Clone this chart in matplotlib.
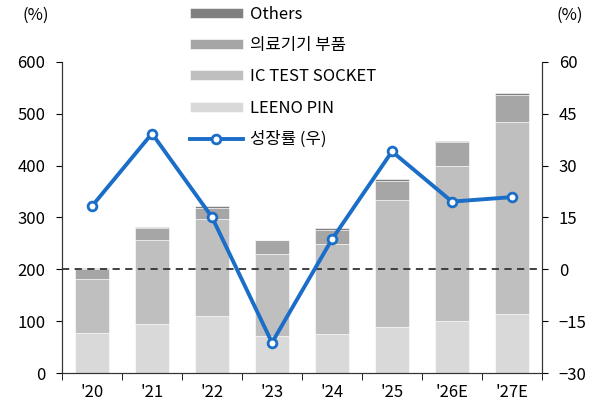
import numpy as np
import matplotlib
matplotlib.use('Agg')
import matplotlib.pyplot as plt

plt.rcParams['font.family'] = ['Noto Sans CJK KR', 'DejaVu Sans']

# 데이터
anos = ["'20", "'21", "'22", "'23", "'24", "'25", "'26E", "'27E"]
leeno_pin = [78, 95, 110, 71, 76, 89, 101, 113]
ic_socket = [103, 162, 187, 159, 173, 244, 299, 371]
medical = [20, 23, 21, 26, 27, 38, 45, 52]
others = [1, 2, 5, 1, 3, 3, 2, 4]
crescimento = [18.3, 39.3, 15.1, -21.2, 8.7, 34.1, 19.6, 20.9]

cores = ['#d9d9d9', '#bfbfbf', '#a6a6a6', '#808080']
azul = '#1a6ec8'

fig = plt.figure(figsize=(5.9, 4.05), dpi=100)
ax = fig.add_axes([62/590, 1-373/405, (542-62)/590, (373-62)/405])

x = np.arange(len(anos))
w = 0.58
base = np.zeros(len(anos))
series = [(leeno_pin, 'LEENO PIN'), (ic_socket, 'IC TEST SOCKET'),
          (medical, '의료기기 부품'), (others, 'Others')]
handles = {}
for (vals, nome), cor in zip(series, cores):
    b = ax.bar(x, vals, w, bottom=base, color=cor, edgecolor='white', linewidth=0.4, label=nome)
    handles[nome] = b
    base = base + np.array(vals)

ax.axhline(200, color='#333333', linestyle=(0, (4, 3)), linewidth=1.3, zorder=3)

ax.set_xlim(-0.5, 7.5)
ax.set_ylim(0, 600)
ax.set_yticks(range(0, 601, 100))
ax.set_xticks(x)
ax.set_xticklabels(anos)
ax.set_xticks(np.arange(-0.5, 8, 1), minor=True)
ax.tick_params(axis='x', which='major', length=0, pad=8, labelsize=12)
ax.tick_params(axis='x', which='minor', length=5, direction='out')
ax.tick_params(axis='y', length=4, direction='out', labelsize=12, pad=8)
ax.spines['top'].set_visible(False)
for s in ax.spines.values():
    s.set_color('#333333')

ax2 = ax.twinx()
ax2.set_ylim(-30, 60)
ax2.set_yticks(range(-30, 61, 15))
ax2.tick_params(axis='y', length=4, direction='out', labelsize=12, pad=8)
ax2.spines['top'].set_visible(False)
for s in ax2.spines.values():
    s.set_color('#333333')
linha, = ax2.plot(x, crescimento, color=azul, linewidth=2.8, marker='o', markersize=6.3,
                  markerfacecolor='white', markeredgecolor=azul, markeredgewidth=2,
                  label='성장률 (우)', zorder=5)

fig.text(22/590, 1-15/405, '(%)', fontsize=12, ha='left', va='center')
fig.text(570/590, 1-15/405, '(%)', fontsize=12, ha='center', va='center')

ordem = [handles['Others'], handles['의료기기 부품'], handles['IC TEST SOCKET'],
         handles['LEENO PIN'], linha]
rotulos = ['Others', '의료기기 부품', 'IC TEST SOCKET', 'LEENO PIN', '성장률 (우)']
fig.legend(ordem, rotulos, loc='upper left', bbox_to_anchor=(183/590, 1.0 + 1/405),
           frameon=False, fontsize=12, handlelength=3.2, handleheight=0.55,
           labelspacing=0.86, handletextpad=0.4, borderaxespad=0)

plt.savefig('out.png', dpi=100)
plt.close()
